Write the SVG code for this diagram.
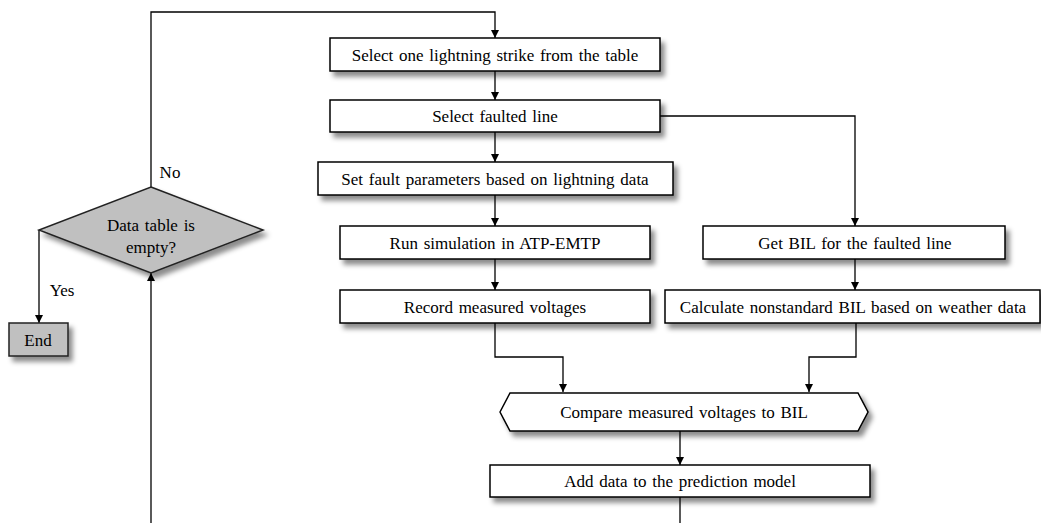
<svg xmlns="http://www.w3.org/2000/svg" width="1041" height="523" viewBox="0 0 1041 523">
<style>
.box{fill:#fff;stroke:#000;stroke-width:1.5;filter:url(#sh)}
.gray{fill:#c0c0c0;stroke:#222;stroke-width:1.5;filter:url(#sh)}
.t{font-family:"Liberation Serif","Times New Roman",serif;font-size:17px;word-spacing:1.5px;fill:#000;text-anchor:middle;dominant-baseline:central}
.c{fill:none;stroke:#000;stroke-width:1.3}
</style>
<defs>
<filter id="sh" x="-10%" y="-20%" width="130%" height="160%">
<feDropShadow dx="4" dy="5" stdDeviation="2.5" flood-color="#000" flood-opacity="0.45"/>
</filter>
<marker id="a" viewBox="0 0 10 10" refX="10" refY="5" markerWidth="8" markerHeight="8" orient="auto" markerUnits="userSpaceOnUse">
<path d="M0,0 L10,5 L0,10 z" fill="#000"/>
</marker>
</defs>
<rect width="1041" height="523" fill="#fff"/>
<g id="connectors">
<path class="c" d="M151,187 V12 H495 V38" marker-end="url(#a)"/>
<path class="c" d="M495,71 V100" marker-end="url(#a)"/>
<path class="c" d="M495,132 V162" marker-end="url(#a)"/>
<path class="c" d="M495,195 V226" marker-end="url(#a)"/>
<path class="c" d="M495,259 V290" marker-end="url(#a)"/>
<path class="c" d="M660,116 H855 V226" marker-end="url(#a)"/>
<path class="c" d="M855,259 V290" marker-end="url(#a)"/>
<path class="c" d="M495,323 V357 H563 V392" marker-end="url(#a)"/>
<path class="c" d="M856,323 V357 H809 V392" marker-end="url(#a)"/>
<path class="c" d="M680,431 V465" marker-end="url(#a)"/>
<path class="c" d="M680,497 V523"/>
<path class="c" d="M151,523 V273" marker-end="url(#a)"/>
<path class="c" d="M39,230 V323" marker-end="url(#a)"/>
<text class="t" x="170" y="172">No</text>
<text class="t" x="62" y="290">Yes</text>
</g>
<g id="n1"><rect class="box" x="330" y="38" width="330" height="33"/><text class="t" x="495" y="55">Select one lightning strike from the table</text></g>
<g id="n2"><rect class="box" x="330" y="100" width="330" height="32"/><text class="t" x="495" y="116">Select faulted line</text></g>
<g id="n3"><rect class="box" x="318" y="162" width="355" height="33"/><text class="t" x="495" y="179">Set fault parameters based on lightning data</text></g>
<g id="n4"><rect class="box" x="340" y="226" width="310" height="33"/><text class="t" x="495" y="243">Run simulation in ATP-EMTP</text></g>
<g id="n5"><rect class="box" x="340" y="290" width="310" height="33"/><text class="t" x="495" y="307">Record measured voltages</text></g>
<g id="n6"><rect class="box" x="703" y="226" width="302" height="33"/><text class="t" x="855" y="243">Get BIL for the faulted line</text></g>
<g id="n7"><rect class="box" x="665" y="290" width="375" height="33"/><text class="t" x="853" y="307">Calculate nonstandard BIL based on weather data</text></g>
<g id="n8"><path class="box" d="M500,412 L510,393 H858 L868,412 L858,431 H510 Z"/><text class="t" x="684" y="412">Compare measured voltages to BIL</text></g>
<g id="n9"><rect class="box" x="490" y="465" width="380" height="32"/><text class="t" x="680" y="481">Add data to the prediction model</text></g>
<g id="d1"><path class="gray" d="M151,187 L263,230 L151,273 L39,230 Z"/><text class="t" x="151" y="225">Data table is</text><text class="t" x="151" y="247">empty?</text></g>
<g id="end"><rect class="gray" x="9" y="323" width="59" height="33"/><text class="t" x="38" y="340">End</text></g>
</svg>
